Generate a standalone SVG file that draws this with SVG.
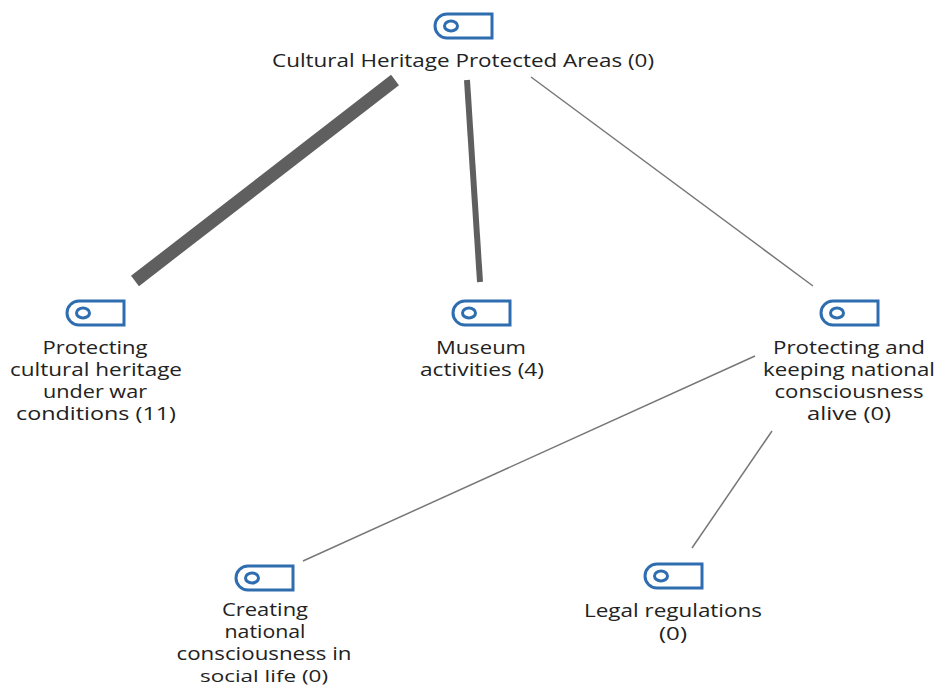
<svg xmlns="http://www.w3.org/2000/svg" width="939" height="686" viewBox="0 0 939 686">
<style>
text{font-family:"Open Sans","Noto Sans",sans-serif;font-size:18px;fill:#222;text-anchor:middle}
.e{stroke:#5f5f5f;fill:none}
.t{stroke:#777;fill:none;stroke-width:1.500}
.b{fill:none;stroke:#2e6db0;stroke-width:3}
</style>
<defs><g id="tag"><path class="b" d="M58 1H13A12 12 0 0 0 13 25H58Z"/><ellipse class="b" cx="17" cy="13" rx="6.500" ry="5"/></g></defs>
<rect width="939" height="686" fill="#fff"/>
<g id="connectors">
<path class="e" stroke-width="13" d="M395 80L135 281"/>
<path class="e" stroke-width="6" d="M467 80L480 282"/>
<path class="t" d="M531 77L813 286"/>
<path class="t" d="M755 356L303 561"/>
<path class="t" d="M772 431L692 548"/>
</g>
<g id="n1"><use href="#tag" x="434" y="13"/><text x="463" y="67" textLength="382" lengthAdjust="spacingAndGlyphs">Cultural Heritage Protected Areas (0)</text></g>
<g id="n2"><use href="#tag" x="66" y="300"/>
<text x="95" y="354" textLength="105" lengthAdjust="spacingAndGlyphs">Protecting</text>
<text x="96" y="376" textLength="172" lengthAdjust="spacingAndGlyphs">cultural heritage</text>
<text x="95" y="398" textLength="104" lengthAdjust="spacingAndGlyphs">under war</text>
<text x="96" y="420" textLength="160" lengthAdjust="spacingAndGlyphs">conditions  (11)</text></g>
<g id="n3"><use href="#tag" x="452" y="300"/>
<text x="481" y="354" textLength="90" lengthAdjust="spacingAndGlyphs">Museum</text>
<text x="482" y="376" textLength="124" lengthAdjust="spacingAndGlyphs">activities  (4)</text></g>
<g id="n4"><use href="#tag" x="820" y="300"/>
<text x="849" y="354" textLength="152" lengthAdjust="spacingAndGlyphs">Protecting and</text>
<text x="849" y="376" textLength="172" lengthAdjust="spacingAndGlyphs">keeping national</text>
<text x="849" y="398" textLength="149" lengthAdjust="spacingAndGlyphs">consciousness</text>
<text x="849" y="420" textLength="84" lengthAdjust="spacingAndGlyphs">alive  (0)</text></g>
<g id="n5"><use href="#tag" x="235" y="565"/>
<text x="265" y="616" textLength="86" lengthAdjust="spacingAndGlyphs">Creating</text>
<text x="265" y="638" textLength="81" lengthAdjust="spacingAndGlyphs">national</text>
<text x="264" y="660" textLength="175" lengthAdjust="spacingAndGlyphs">consciousness in</text>
<text x="264" y="682" style="font-size:16.500px" textLength="128" lengthAdjust="spacingAndGlyphs">social life (0)</text></g>
<g id="n6"><use href="#tag" x="644" y="563"/>
<text x="673" y="617" textLength="178" lengthAdjust="spacingAndGlyphs">Legal regulations</text>
<text x="673" y="640" textLength="28" lengthAdjust="spacingAndGlyphs">(0)</text></g>
</svg>
